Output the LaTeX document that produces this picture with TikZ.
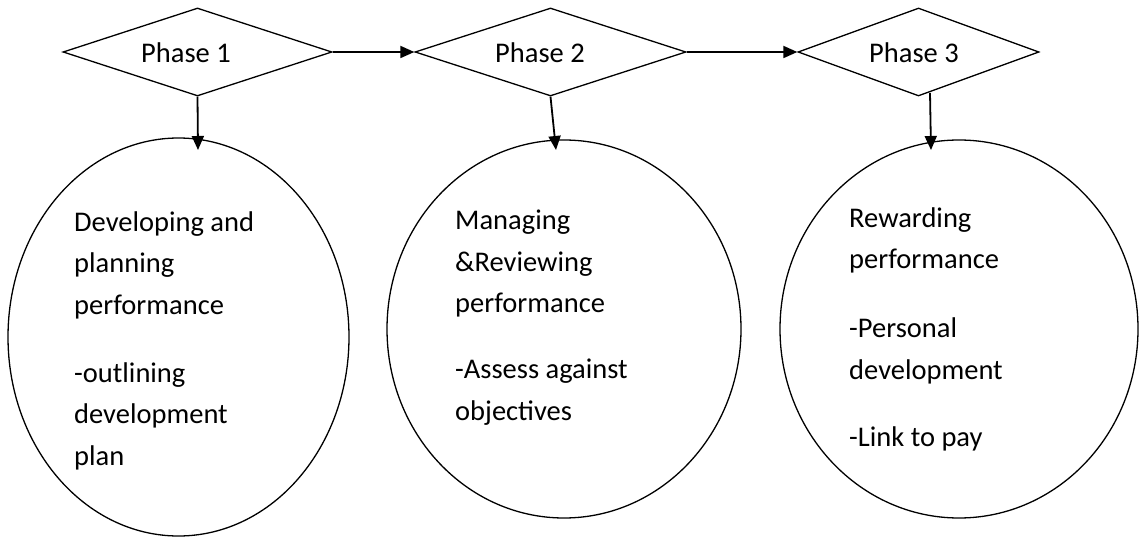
\documentclass[tikz,border=0pt]{standalone}
\usepackage{fontspec}
\setmainfont{Carlito}
\usetikzlibrary{shapes.geometric,arrows.meta}
\begin{document}
\begin{tikzpicture}[x=1pt,y=-1pt,
  phasebox/.style={draw,shape=diamond,inner sep=0pt,line width=1.3pt,minimum height=88pt},
  bubble/.style={draw,shape=ellipse,inner sep=0pt,line width=1.3pt},
  phasetext/.style={anchor=base,inner sep=0pt,font=\fontsize{28.5}{34}\selectfont},
  bodytext/.style={anchor=base west,inner sep=0pt,align=left,font=\fontsize{28.5}{41.5}\selectfont},
  conn/.style={line width=1.8pt,-{Triangle[length=14pt,width=12pt]}}]
\useasboundingbox (0,0) rectangle (1139,537);
% diamonds
\node[phasebox,minimum width=269pt] (d1) at (197.5,52) {};
\node[phasebox,minimum width=271pt] (d2) at (550.5,52) {};
\node[phasebox,minimum width=241pt] (d3) at (918.5,52) {};
\node[phasetext] (p1) at (186,63) {Phase 1};
\node[phasetext] (p2) at (540,63) {Phase 2};
\node[phasetext] (p3) at (914,63) {Phase 3};
% ellipses
\node[bubble,minimum width=341pt,minimum height=398pt] (e1) at (178.5,337) {};
\node[bubble,minimum width=354pt,minimum height=378pt] (e2) at (564,329) {};
\node[bubble,minimum width=358pt,minimum height=378pt] (e3) at (959,329) {};
% body texts (anchored at the baseline of their last line)
\node[bodytext] (t1) at (74,465) {Developing and\\planning\\performance\\[26.5pt]-outlining\\development\\plan};
\node[bodytext] (t2) at (455,420) {Managing\\\&Reviewing\\performance\\[24.5pt]-Assess against\\objectives};
\node[bodytext] (t3) at (849,446) {Rewarding\\performance\\[27.5pt]-Personal\\development\\[25.5pt]-Link to pay};
% connectors
\coordinate (a1) at (198,150);
\coordinate (a2) at (556,150);
\coordinate (s3) at (930,93);
\coordinate (a3) at (931,150);
\draw[conn] (d1.east) -- (d2.west);
\draw[conn] (d2.east) -- (d3.west);
\draw[conn] (d1.south) -- (a1);
\draw[conn] (d2.south) -- (a2);
\draw[conn] (s3) -- (a3);
\end{tikzpicture}
\end{document}
